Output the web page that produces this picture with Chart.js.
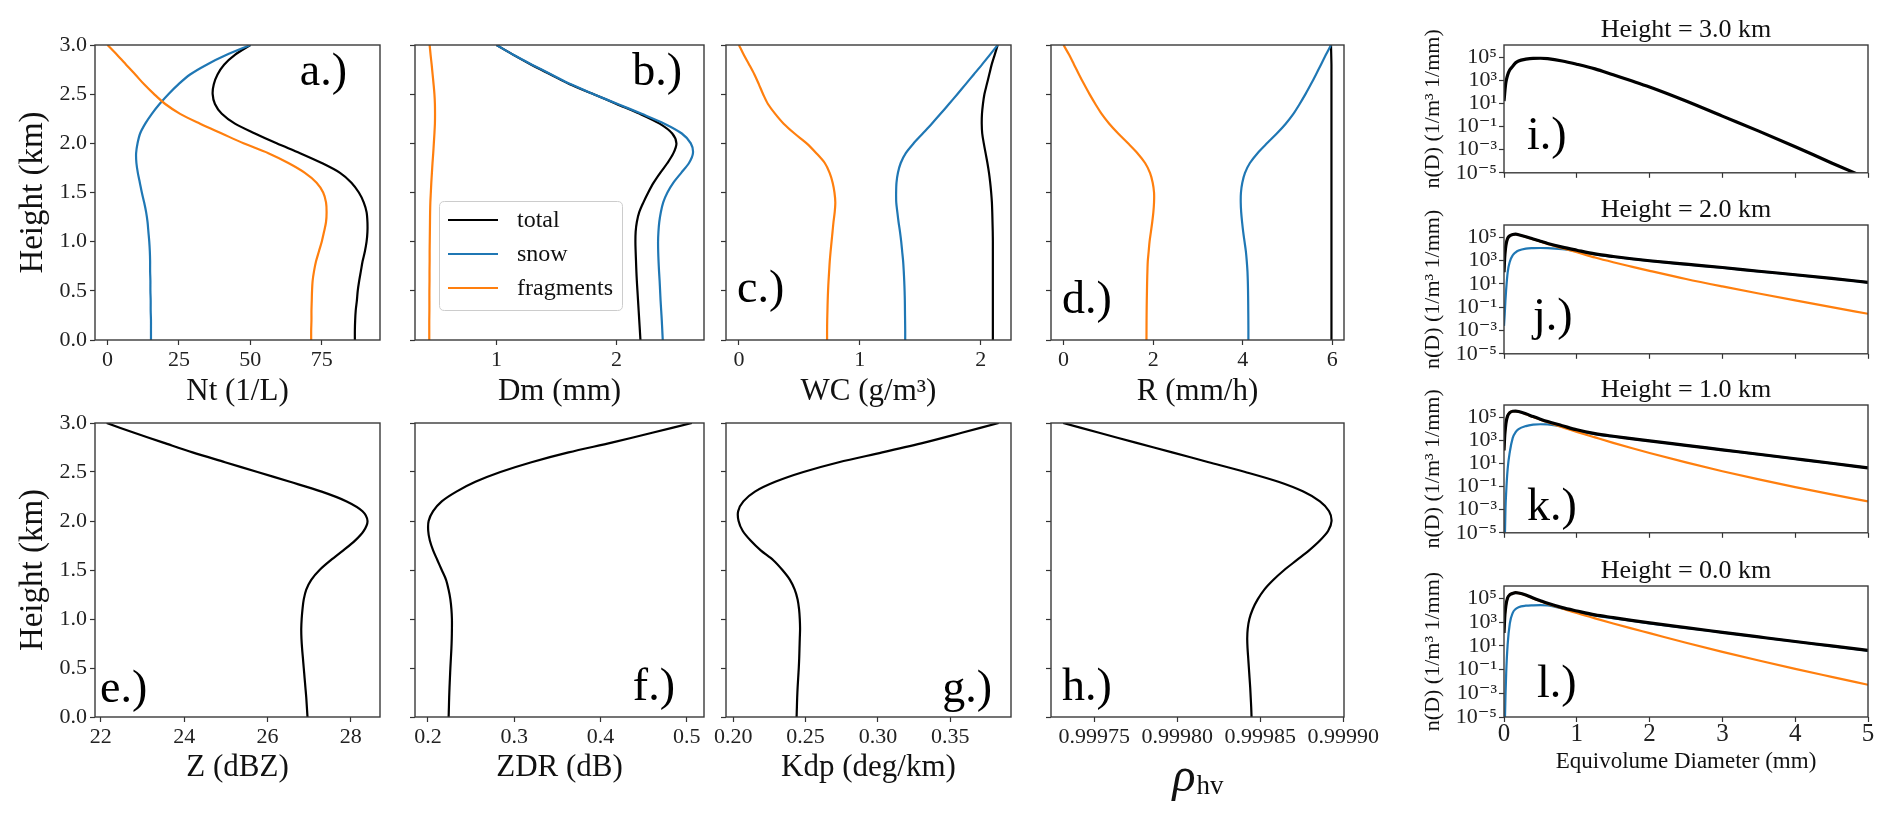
<!DOCTYPE html>
<html><head><meta charset="utf-8">
<script src="https://cdn.jsdelivr.net/npm/chart.js@4.4.1/dist/chart.umd.min.js"></script>
<style>
html,body{margin:0;padding:0;background:#fff;}
body{width:1892px;height:817px;position:relative;overflow:hidden;}
canvas{position:absolute;}
</style></head><body>
<script>
// ================= DATA =================
// Heights (km) for the vertical profiles
const heights = [0,0.1,0.2,0.3,0.4,0.5,0.6,0.7,0.8,0.9,1,1.1,1.2,1.3,1.4,1.5,1.6,1.7,1.8,1.9,2,2.1,2.2,2.3,2.4,2.5,2.6,2.7,2.8,2.9,3];

// a.) Nt (1/L)
const ntTotal = [86.6,86.6,86.7,86.9,87.3,87.6,88.1,88.7,89.3,90.1,90.7,91.0,91.0,90.7,89.7,88.0,85.4,81.4,75.0,67.4,59.2,51.6,44.6,40.0,37.6,36.8,37.2,38.5,40.8,44.6,50.0];
const ntSnow  = [15.2,15.2,15.2,15.1,15.1,15.0,15.0,14.9,14.9,14.8,14.6,14.3,14.0,13.5,12.8,12.0,11.3,10.6,10.1,10.0,10.5,11.4,13.2,15.5,18.2,21.3,24.8,28.9,34.7,41.7,50.0];
const ntFrag  = [71.3,71.3,71.4,71.4,71.5,71.6,71.8,72.3,73.0,74.0,75.0,75.8,76.5,76.7,76.5,75.5,73.2,69.1,63.3,56.3,47.6,40.0,32.4,25.4,20.2,16.3,12.8,9.7,6.5,3.3,0.0];

// b.) Dm (mm)
const dmTotal = [2.2,2.195,2.19,2.185,2.18,2.175,2.17,2.166,2.163,2.16,2.158,2.16,2.17,2.19,2.225,2.265,2.31,2.365,2.425,2.475,2.50,2.465,2.36,2.195,2.0,1.81,1.61,1.45,1.29,1.14,1.0];
const dmSnow  = [2.386,2.382,2.378,2.373,2.368,2.364,2.36,2.355,2.351,2.348,2.347,2.35,2.357,2.37,2.39,2.425,2.475,2.54,2.605,2.638,2.62,2.545,2.40,2.21,2.01,1.81,1.62,1.457,1.295,1.14,1.0];
const dmFrag  = [0.439,0.439,0.439,0.44,0.44,0.44,0.441,0.441,0.442,0.442,0.443,0.444,0.445,0.446,0.448,0.452,0.456,0.461,0.466,0.472,0.477,0.482,0.486,0.487,0.486,0.482,0.475,0.467,0.459,0.45,0.442];

// c.) WC (g/m3)
const wcTotal = [2.1,2.1,2.1,2.1,2.1,2.1,2.1,2.1,2.1,2.1,2.1,2.099,2.097,2.095,2.092,2.086,2.078,2.068,2.055,2.04,2.025,2.012,2.008,2.01,2.018,2.03,2.05,2.07,2.09,2.115,2.14];
const wcSnow  = [1.375,1.375,1.374,1.373,1.372,1.37,1.367,1.363,1.358,1.35,1.342,1.332,1.32,1.31,1.301,1.30,1.303,1.315,1.338,1.38,1.445,1.52,1.595,1.667,1.737,1.806,1.874,1.942,2.01,2.075,2.14];
const wcFrag  = [0.729,0.729,0.73,0.732,0.734,0.737,0.741,0.746,0.751,0.758,0.766,0.774,0.782,0.792,0.797,0.79,0.775,0.75,0.71,0.64,0.56,0.46,0.37,0.30,0.24,0.20,0.165,0.128,0.085,0.04,0.0];

// d.) R (mm/h)
const rTotal = [5.98,5.98,5.98,5.98,5.98,5.98,5.98,5.98,5.98,5.98,5.98,5.98,5.98,5.98,5.98,5.98,5.98,5.98,5.98,5.98,5.98,5.98,5.98,5.98,5.98,5.98,5.98,5.98,5.98,5.975,5.97];
const rSnow  = [4.126,4.126,4.125,4.123,4.121,4.118,4.113,4.105,4.09,4.07,4.04,4.01,3.985,3.965,3.955,3.96,3.99,4.05,4.16,4.33,4.54,4.76,4.96,5.13,5.27,5.40,5.52,5.635,5.745,5.855,5.97];
const rFrag  = [1.851,1.852,1.853,1.855,1.858,1.862,1.866,1.872,1.88,1.9,1.92,1.95,1.98,2.005,2.02,2.02,1.99,1.93,1.82,1.65,1.44,1.22,1.02,0.85,0.71,0.58,0.46,0.345,0.235,0.125,0.0];

// e.) - h.) radar variables
const zProfile     = [26.96,26.945,26.93,26.91,26.89,26.87,26.85,26.83,26.815,26.81,26.82,26.84,26.87,26.93,27.05,27.25,27.52,27.82,28.1,28.31,28.4,28.28,27.9,27.3,26.54,25.76,24.98,24.2,23.5,22.8,22.14];
const zdrProfile   = [0.224,0.2243,0.2246,0.225,0.2255,0.226,0.2266,0.2272,0.2276,0.2278,0.2278,0.2272,0.226,0.2239,0.221,0.216,0.211,0.206,0.2022,0.2003,0.2008,0.206,0.216,0.233,0.255,0.284,0.32,0.363,0.413,0.46,0.506];
const kdpProfile   = [0.2438,0.244,0.2442,0.2445,0.2449,0.2453,0.2456,0.2458,0.246,0.2462,0.246,0.2455,0.2445,0.2425,0.2392,0.234,0.2277,0.219,0.212,0.2065,0.2037,0.2034,0.207,0.215,0.229,0.2485,0.273,0.303,0.332,0.358,0.3835];
const rhohvProfile = [0.9998448,0.9998446,0.9998443,0.999844,0.9998436,0.9998432,0.9998428,0.9998424,0.9998422,0.9998425,0.9998435,0.9998455,0.9998485,0.9998525,0.999858,0.9998645,0.999872,0.9998795,0.999886,0.999891,0.999893,0.9998915,0.999886,0.999876,0.999861,0.999841,0.999819,0.999797,0.999775,0.999753,0.9997313];

// i.) - l.) particle size distributions, n(D) in 1/m3 1/mm
const psdD = [0,0.01,0.02,0.03,0.05,0.08,0.12,0.16,0.2,0.3,0.4,0.5,0.6,0.8,1.0,1.25,1.5,1.75,2.0,2.5,3.0,3.5,4.0,4.5,5.0];
const psd3Total = [1.6e1,7.9e1,3.5e2,8.9e2,2.8e3,7.9e3,1.6e4,3.2e4,4.6e4,6.6e4,7.8e4,7.9e4,7.2e4,4.6e4,2.4e4,9.5e3,2.9e3,8.9e2,2.6e2,1.6e1,7.9e-1,4.0e-2,1.8e-3,7.1e-5,3.2e-6];
const psd2Total = [1.0e2,2.0e3,1.0e4,2.8e4,7.9e4,1.3e5,1.7e5,1.8e5,1.6e5,1.1e5,6.9e4,4.5e4,2.9e4,1.4e4,7.6e3,3.7e3,2.2e3,1.4e3,9.5e2,4.8e2,2.5e2,1.2e2,6.0e1,2.9e1,1.35e1];
const psd2Snow  = [2.5e-3,2.5e-2,4.0e-1,3.5e0,9.3e1,7.9e2,2.8e3,5.0e3,7.1e3,1.05e4,1.15e4,1.17e4,1.15e4,9.5e3,6.3e3,3.3e3,2.1e3,1.35e3,9.1e2,4.7e2,2.4e2,1.17e2,5.9e1,2.85e1,1.33e1];
const psd2Frag  = [1.0e2,2.0e3,1.0e4,2.8e4,7.9e4,1.3e5,1.7e5,1.8e5,1.6e5,1.05e5,6.6e4,4.2e4,2.6e4,1.12e4,5.1e3,1.8e3,7.1e2,3.0e2,1.3e2,2.6e1,6.0e0,1.48e0,3.8e-1,1.0e-1,2.7e-2];
const psd1Total = [1.3e2,2.5e3,1.26e4,4.0e4,1.26e5,2.4e5,3.2e5,3.3e5,3.0e5,1.9e5,1.1e5,6.6e4,4.1e4,1.8e4,7.9e3,3.7e3,2.19e3,1.38e3,8.7e2,3.6e2,1.48e2,6.1e1,2.5e1,1.02e1,4.1e0];
const psd1Snow  = [null,1.0e-6,1.0e-3,3.2e-2,3.2e0,1.0e2,1.6e3,5.0e3,8.9e3,1.66e4,2.2e4,2.4e4,2.3e4,1.5e4,6.3e3,3.3e3,2.1e3,1.35e3,8.5e2,3.55e2,1.47e2,6.0e1,2.45e1,1.0e1,4.0e0];
const psd1Frag  = [1.3e2,2.5e3,1.26e4,4.0e4,1.26e5,2.4e5,3.2e5,3.3e5,3.0e5,1.8e5,1.0e5,6.0e4,3.5e4,1.3e4,5.2e3,1.74e3,5.9e2,2.1e2,7.9e1,1.22e1,2.1e0,4.1e-1,8.8e-2,2.07e-2,5.2e-3];
const psd0Total = [1.2e2,2.5e3,1.26e4,3.5e4,1.12e5,2.0e5,2.6e5,3.0e5,2.8e5,1.9e5,1.07e5,6.3e4,3.8e4,1.66e4,8.7e3,4.1e3,2.4e3,1.41e3,8.5e2,3.4e2,1.38e2,5.6e1,2.3e1,9.8e0,4.1e0];
const psd0Snow  = [null,1.0e-6,5.0e-4,5.0e-2,1.26e1,7.9e2,6.0e3,1.26e4,1.8e4,2.4e4,2.6e4,2.7e4,2.5e4,1.4e4,7.1e3,3.4e3,2.1e3,1.3e3,7.9e2,3.2e2,1.35e2,5.5e1,2.3e1,9.5e0,4.0e0];
const psd0Frag  = [1.2e2,2.5e3,1.26e4,3.5e4,1.12e5,2.0e5,2.6e5,3.0e5,2.8e5,1.8e5,1.0e5,5.8e4,3.4e4,1.4e4,5.75e3,2.04e3,7.6e2,2.95e2,1.17e2,1.82e1,3.1e0,5.75e-1,1.15e-1,2.43e-2,5.2e-3];

// ================= TICKS =================
const heightTicks = [0,0.5,1,1.5,2,2.5,3];
const heightTickLabels = ['0.0','0.5','1.0','1.5','2.0','2.5','3.0'];
const ntTicks = [0,25,50,75], ntTickLabels = ['0','25','50','75'];
const dmTicks = [1,2], dmTickLabels = ['1','2'];
const wcTicks = [0,1,2], wcTickLabels = ['0','1','2'];
const rTicks = [0,2,4,6], rTickLabels = ['0','2','4','6'];
const zTicks = [22,24,26,28], zTickLabels = ['22','24','26','28'];
const zdrTicks = [0.2,0.3,0.4,0.5], zdrTickLabels = ['0.2','0.3','0.4','0.5'];
const kdpTicks = [0.20,0.25,0.30,0.35], kdpTickLabels = ['0.20','0.25','0.30','0.35'];
const rhoTicks = [0.99975,0.99980,0.99985,0.99990], rhoTickLabels = ['0.99975','0.99980','0.99985','0.99990'];
const psdXTicks = [0,1,2,3,4,5], psdXTickLabels = ['0','1','2','3','4','5'];
const psdYTicks = [1e-5,1e-3,1e-1,1e1,1e3,1e5], psdYTickLabels = ['10\u207B\u2075','10\u207B\u00B3','10\u207B\u00B9','10\u00B9','10\u00B3','10\u2075'];

const legendLabels = ['total','snow','fragments'];

// ================= STYLE / HELPERS =================
const SERIF = "'Liberation Serif', 'DejaVu Serif', serif";
const COL = {total:'#000000', snow:'#1f77b4', frag:'#ff7f0e'};
Chart.defaults.font.family = SERIF;
Chart.defaults.color = '#222';

function roundRect(ctx, x, y, w, h, r) {
  ctx.beginPath();
  ctx.moveTo(x + r, y); ctx.lineTo(x + w - r, y); ctx.quadraticCurveTo(x + w, y, x + w, y + r);
  ctx.lineTo(x + w, y + h - r); ctx.quadraticCurveTo(x + w, y + h, x + w - r, y + h);
  ctx.lineTo(x + r, y + h); ctx.quadraticCurveTo(x, y + h, x, y + h - r);
  ctx.lineTo(x, y + r); ctx.quadraticCurveTo(x, y, x + r, y); ctx.closePath();
}

const decoPlugin = {
  id: 'decoPlugin',
  afterDatasetsDraw(chart) {
    const d = chart.canvas._deco || {};
    const ctx = chart.ctx, a = chart.chartArea;
    ctx.save();
    ctx.lineWidth = 1.4; ctx.strokeStyle = '#3a3a3a';
    ctx.strokeRect(a.left, a.top, a.right - a.left, a.bottom - a.top);
    if (d.label) {
      const L = d.label;
      ctx.font = '46px ' + SERIF; ctx.fillStyle = '#000'; ctx.textBaseline = 'alphabetic';
      ctx.textAlign = L.right ? 'right' : 'left';
      const x = L.right ? a.right - L.dx : a.left + L.dx;
      const y = L.bottom ? a.bottom - L.dy : a.top + L.dy;
      ctx.fillText(L.text, x, y);
    }
    if (d.title) {
      ctx.font = '26px ' + SERIF; ctx.fillStyle = '#111'; ctx.textAlign = 'center'; ctx.textBaseline = 'middle';
      ctx.fillText(d.title, (a.left + a.right) / 2, a.top - 15);
    }
    if (d.legend) {
      const g = d.legend;
      const x = a.left + g.dx, y = a.top + g.dy;
      ctx.fillStyle = 'rgba(255,255,255,0.8)'; ctx.strokeStyle = '#cccccc'; ctx.lineWidth = 1;
      roundRect(ctx, x + 0.5, y + 0.5, g.w, g.h, 5); ctx.fill(); ctx.stroke();
      chart.data.datasets.forEach((ds, i) => {
        const cy = y + g.row0 + i * g.rowH;
        ctx.strokeStyle = ds.borderColor; ctx.lineWidth = ds.borderWidth;
        ctx.beginPath(); ctx.moveTo(x + g.lx0, cy); ctx.lineTo(x + g.lx1, cy); ctx.stroke();
        ctx.fillStyle = '#111'; ctx.font = '24px ' + SERIF; ctx.textAlign = 'left'; ctx.textBaseline = 'middle';
        ctx.fillText(ds.label, x + g.tx, cy + 1);
      });
    }
    if (d.rho) {
      const cx = (a.left + a.right) / 2;
      ctx.fillStyle = '#111'; ctx.textBaseline = 'alphabetic'; ctx.textAlign = 'left';
      ctx.font = 'italic 48px ' + SERIF; const w1 = ctx.measureText('\u03C1').width;
      ctx.font = '27px ' + SERIF; const w2 = ctx.measureText('hv').width;
      const x0 = cx - (w1 + w2) / 2;
      ctx.font = 'italic 48px ' + SERIF; ctx.fillText('\u03C1', x0, a.bottom + 74);
      ctx.font = '27px ' + SERIF; ctx.fillText('hv', x0 + w1 + 1, a.bottom + 77);
    }
    ctx.restore();
  }
};

function profPts(vals) { return heights.map((h, i) => ({x: vals[i], y: h})); }
function psdPts(vals) { return psdD.map((x, i) => ({x, y: vals[i]})).filter(p => p.y !== null); }
function ds(label, color, data, width, order, mono) {
  const o = {label, data, borderColor: color, backgroundColor: color, borderWidth: width, showLine: true,
    pointRadius: 0, pointHoverRadius: 0, fill: false, order};
  if (mono) o.cubicInterpolationMode = 'monotone'; else o.tension = 0.3;
  return o;
}
function F(size, lh) { return {family: SERIF, size: size, lineHeight: lh ?? 1.2}; }

function panel(o) {
  const padL = o.padL, padR = o.padR ?? 45, padT = o.padT ?? 40, padB = o.padB ?? 80;
  const r = o.rect;
  const W = r[2] - r[0] + padL + padR, H = r[3] - r[1] + padT + padB;
  const cv = document.createElement('canvas');
  cv.width = W; cv.height = H;
  cv.style.left = (r[0] - padL) + 'px'; cv.style.top = (r[1] - padT) + 'px';
  cv.style.width = W + 'px'; cv.style.height = H + 'px';
  cv._deco = o.deco || {};
  document.body.appendChild(cv);
  const grid = {display: true, drawOnChartArea: false, drawTicks: true, tickLength: 5, tickWidth: 1.2, tickColor: '#333', color: '#333'};
  const xTitleSize = o.xTitleSize ?? 31, yTitleSize = o.yTitleSize ?? 33;
  return new Chart(cv.getContext('2d'), {
    type: 'scatter',
    data: {datasets: o.datasets},
    options: {
      responsive: false, animation: false, devicePixelRatio: 1, events: [],
      font: {family: SERIF},
      layout: {padding: {top: padT, right: padR, left: 0, bottom: 0}},
      plugins: {legend: {display: false}, tooltip: {enabled: false}, title: {display: false}},
      scales: {
        x: {
          type: 'linear', position: 'bottom', min: o.xmin, max: o.xmax,
          afterFit: s => { s.height = padB; },
          afterBuildTicks: s => { s.ticks = o.xticks.map(v => ({value: v})); },
          ticks: {autoSkip: false, maxRotation: 0, minRotation: 0, padding: o.xTickPad ?? 2,
            font: F(o.xTickSize ?? 22, o.xTickLH ?? 1.2), color: '#222',
            callback: (v, i) => o.xlabels ? o.xlabels[i] : ''},
          grid: grid, border: {display: false},
          title: o.xtitle ? {display: true, text: o.xtitle, color: '#111', font: F(xTitleSize),
            padding: {top: 0, bottom: padB - xTitleSize * 0.6 - o.xTitleOff}} : {display: false}
        },
        y: {
          type: o.ylog ? 'logarithmic' : 'linear', position: 'left', min: o.ymin, max: o.ymax,
          afterFit: s => { s.width = padL; },
          afterBuildTicks: s => { s.ticks = o.yticks.map(v => ({value: v})); },
          ticks: {autoSkip: false, padding: o.yTickPad ?? 3, font: F(o.yTickSize ?? 22), color: '#222',
            callback: (v, i) => o.ylabels ? o.ylabels[i] : ''},
          grid: grid, border: {display: false},
          title: o.ytitle ? {display: true, text: o.ytitle, color: '#111', font: F(yTitleSize),
            padding: {top: o.yTitleX - yTitleSize * 0.6, bottom: 0}} : {display: false}
        }
      }
    },
    plugins: [decoPlugin]
  });
}

function profileSets(t, s, f) {
  return [ds(legendLabels[0], COL.total, profPts(t), 2.2, 3), ds(legendLabels[1], COL.snow, profPts(s), 2.2, 2), ds(legendLabels[2], COL.frag, profPts(f), 2.2, 1)];
}
function single(v) { return [ds('total', COL.total, profPts(v), 2.2, 1)]; }

const TOP = [45, 340], BOT = [423, 717];
const COLS = [[95, 380], [415, 704], [726, 1011], [1051, 1344]];

// ---- top row ----
panel({rect: [COLS[0][0], TOP[0], COLS[0][1], TOP[1]], padL: 95, xmin: -4.4, xmax: 95.4, xticks: ntTicks, xlabels: ntTickLabels,
  ymin: 0, ymax: 3, yticks: heightTicks, ylabels: heightTickLabels, xtitle: 'Nt (1/L)', xTitleOff: 52, ytitle: 'Height (km)', yTitleX: 33,
  datasets: profileSets(ntTotal, ntSnow, ntFrag), deco: {label: {text: 'a.)', right: true, dx: 33, dy: 40}}});
panel({rect: [COLS[1][0], TOP[0], COLS[1][1], TOP[1]], padL: 20, xmin: 0.32, xmax: 2.73, xticks: dmTicks, xlabels: dmTickLabels,
  ymin: 0, ymax: 3, yticks: heightTicks, xtitle: 'Dm (mm)', xTitleOff: 52,
  datasets: profileSets(dmTotal, dmSnow, dmFrag),
  deco: {label: {text: 'b.)', right: true, dx: 22, dy: 40}, legend: {dx: 24, dy: 156, w: 183, h: 109, row0: 19, rowH: 34, lx0: 9, lx1: 59, tx: 78}}});
panel({rect: [COLS[2][0], TOP[0], COLS[2][1], TOP[1]], padL: 20, xmin: -0.107, xmax: 2.25, xticks: wcTicks, xlabels: wcTickLabels,
  ymin: 0, ymax: 3, yticks: heightTicks, xtitle: 'WC (g/m\u00B3)', xTitleOff: 52,
  datasets: profileSets(wcTotal, wcSnow, wcFrag), deco: {label: {text: 'c.)', bottom: true, dx: 11, dy: 38}}});
panel({rect: [COLS[3][0], TOP[0], COLS[3][1], TOP[1]], padL: 20, xmin: -0.28, xmax: 6.26, xticks: rTicks, xlabels: rTickLabels,
  ymin: 0, ymax: 3, yticks: heightTicks, xtitle: 'R (mm/h)', xTitleOff: 52,
  datasets: profileSets(rTotal, rSnow, rFrag), deco: {label: {text: 'd.)', bottom: true, dx: 11, dy: 27}}});

// ---- bottom row ----
panel({rect: [COLS[0][0], BOT[0], COLS[0][1], BOT[1]], padL: 95, padB: 95, xmin: 21.86, xmax: 28.70, xticks: zTicks, xlabels: zTickLabels,
  ymin: 0, ymax: 3, yticks: heightTicks, ylabels: heightTickLabels, xtitle: 'Z (dBZ)', xTitleOff: 51, ytitle: 'Height (km)', yTitleX: 33,
  datasets: single(zProfile), deco: {label: {text: 'e.)', bottom: true, dx: 5, dy: 15}}});
panel({rect: [COLS[1][0], BOT[0], COLS[1][1], BOT[1]], padL: 20, padB: 95, xmin: 0.185, xmax: 0.52, xticks: zdrTicks, xlabels: zdrTickLabels,
  ymin: 0, ymax: 3, yticks: heightTicks, xtitle: 'ZDR (dB)', xTitleOff: 51,
  datasets: single(zdrProfile), deco: {label: {text: 'f.)', right: true, bottom: true, dx: 29, dy: 17}}});
panel({rect: [COLS[2][0], BOT[0], COLS[2][1], BOT[1]], padL: 20, padB: 95, xmin: 0.195, xmax: 0.392, xticks: kdpTicks, xlabels: kdpTickLabels,
  ymin: 0, ymax: 3, yticks: heightTicks, xtitle: 'Kdp (deg/km)', xTitleOff: 51,
  datasets: single(kdpProfile), deco: {label: {text: 'g.)', right: true, bottom: true, dx: 19, dy: 15}}});
panel({rect: [COLS[3][0], BOT[0], COLS[3][1], BOT[1]], padL: 20, padB: 95, xmin: 0.999724, xmax: 0.9999005, xticks: rhoTicks, xlabels: rhoTickLabels,
  ymin: 0, ymax: 3, yticks: heightTicks,
  datasets: single(rhohvProfile), deco: {label: {text: 'h.)', bottom: true, dx: 11, dy: 17}, rho: true}});

// ---- PSD column ----
const PSD_X = [1504, 1868];
const psdRows = [[45, 176], [225, 357], [405, 536], [586, 717]];
const psdTitles = ['Height = 3.0 km', 'Height = 2.0 km', 'Height = 1.0 km', 'Height = 0.0 km'];
const psdSets = [
  [ds('total', COL.total, psdPts(psd3Total), 3.2, 1, true)],
  [ds('total', COL.total, psdPts(psd2Total), 3.2, 1, true), ds('snow', COL.snow, psdPts(psd2Snow), 2.2, 3, true), ds('fragments', COL.frag, psdPts(psd2Frag), 2.2, 2, true)],
  [ds('total', COL.total, psdPts(psd1Total), 3.2, 1, true), ds('snow', COL.snow, psdPts(psd1Snow), 2.2, 3, true), ds('fragments', COL.frag, psdPts(psd1Frag), 2.2, 2, true)],
  [ds('total', COL.total, psdPts(psd0Total), 3.2, 1, true), ds('snow', COL.snow, psdPts(psd0Snow), 2.2, 3, true), ds('fragments', COL.frag, psdPts(psd0Frag), 2.2, 2, true)]
];
const psdLabels = [
  {text: 'i.)', bottom: true, dx: 23, dy: 24},
  {text: 'j.)', bottom: true, dx: 29, dy: 24},
  {text: 'k.)', bottom: true, dx: 23, dy: 13},
  {text: 'l.)', bottom: true, dx: 33, dy: 20}
];
psdRows.forEach((row, k) => {
  const last = k === psdRows.length - 1;
  panel({rect: [PSD_X[0], row[0], PSD_X[1], row[1]], padL: 95, padB: last ? 80 : 12,
    xmin: 0, xmax: 5, xticks: psdXTicks, xlabels: last ? psdXTickLabels : null, xTickSize: 25, xTickLH: 1, xTickPad: 0,
    ylog: true, ymin: 1e-5, ymax: 1.1e6, yticks: psdYTicks, ylabels: psdYTickLabels, yTickPad: 2, yTickSize: 22,
    xtitle: last ? 'Equivolume Diameter (mm)' : null, xTitleSize: 23, xTitleOff: 45,
    ytitle: 'n(D) (1/m\u00B3 1/mm)', yTitleSize: 22, yTitleX: 24,
    datasets: psdSets[k], deco: {label: psdLabels[k], title: psdTitles[k]}});
});
</script>
</body></html>
